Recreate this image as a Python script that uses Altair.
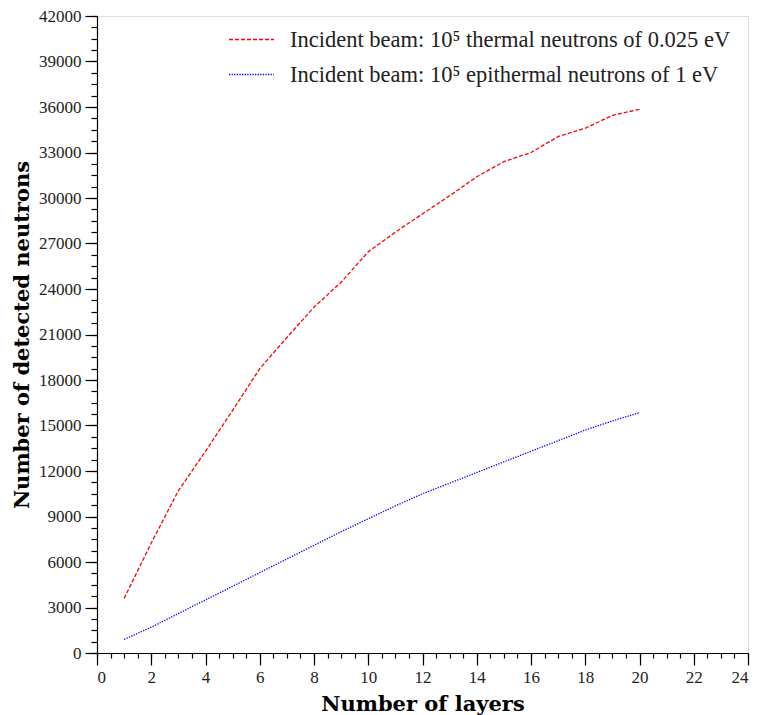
import altair as alt
import pandas as pd

layers = list(range(1, 21))
thermal = [3600, 7250, 10700, 13300, 16000, 18750, 20800, 22800, 24450, 26450,
           27750, 28950, 30150, 31400, 32400, 33000, 34050, 34600, 35450, 35850]
epithermal = [900, 1700, 2600, 3500, 4400, 5300, 6200, 7100, 8000, 8850,
              9700, 10500, 11200, 11900, 12600, 13300, 14000, 14700, 15300, 15850]
names = ["Incident beam: 10\u2075 thermal neutrons of 0.025 eV",
         "Incident beam: 10\u2075 epithermal neutrons of 1 eV"]

x_major = list(range(0, 25, 2))
x_minor = [i * 0.5 for i in range(0, 49)]
y_major = list(range(0, 42001, 3000))
y_minor = list(range(0, 42001, 750))

df = pd.DataFrame({
    "layers": layers * 2,
    "count": thermal + epithermal,
    "series": [names[0]] * 20 + [names[1]] * 20,
})

TICK_FONT = "Liberation Serif"
TITLE_FONT = "DejaVu Serif"

xscale = alt.Scale(domain=[0, 24], nice=False, zero=False)
yscale = alt.Scale(domain=[0, 42000], nice=False)

minor = alt.Chart(df).mark_line(opacity=0).encode(
    x=alt.X("layers:Q", scale=xscale,
            axis=alt.Axis(orient="bottom", values=x_minor, tickSize=5, labels=False,
                          domain=False, grid=False, title=None, tickColor="black",
                          tickWidth=1.2)),
    y=alt.Y("count:Q", scale=yscale,
            axis=alt.Axis(orient="left", values=y_minor, tickSize=6, labels=False,
                          domain=False, grid=False, title=None, tickColor="black",
                          tickWidth=1.2)),
)

lines = alt.Chart(df).mark_line(strokeWidth=1.3).encode(
    x=alt.X("layers:Q", scale=xscale,
            axis=alt.Axis(orient="bottom", values=x_major, tickSize=12, grid=False,
                          title="Number of layers", format="d",
                          labelFont=TICK_FONT, labelFontSize=17, labelColor="#222",
                          labelPadding=4, titleFont=TITLE_FONT, titleFontSize=21,
                          titleFontWeight="bold", titleColor="black", titlePadding=8,
                          tickColor="black", tickWidth=1.2, domainColor="black",
                          domainWidth=1.2)),
    y=alt.Y("count:Q", scale=yscale,
            axis=alt.Axis(orient="left", values=y_major, tickSize=12, grid=False,
                          title="Number of detected neutrons", format="d",
                          labelFont=TICK_FONT, labelFontSize=17, labelColor="#222",
                          labelPadding=4, titleFont=TITLE_FONT, titleFontSize=21,
                          titleFontWeight="bold", titleColor="black", titlePadding=6,
                          tickColor="black", tickWidth=1.2, domainColor="black",
                          domainWidth=1.2)),
    color=alt.Color("series:N",
                    scale=alt.Scale(domain=names, range=["#ff0000", "#0000ff"]),
                    legend=alt.Legend(title=None, orient="none", legendX=131, legendY=0,
                                      symbolType="stroke", symbolSize=2025,
                                      symbolStrokeWidth=1.3, labelFont=TICK_FONT,
                                      labelFontSize=22.5, labelColor="#222",
                                      labelOffset=15, rowPadding=-14, labelLimit=600,
                                      padding=0)),
    strokeDash=alt.StrokeDash("series:N",
                              scale=alt.Scale(domain=names, range=[[4, 2], [1.3, 1.3]]),
                              legend=None),
)

chart = alt.layer(minor, lines).resolve_axis(x="independent", y="independent").properties(
    width=651, height=637,
    autosize=alt.AutoSizeParams(type="none"),
    padding={"left": 89, "top": 8, "right": 2, "bottom": 62},
).configure_view(stroke="black", strokeWidth=1.2).configure(background="white")

chart.save("out.html", embed_options={"renderer": "svg", "actions": False})
